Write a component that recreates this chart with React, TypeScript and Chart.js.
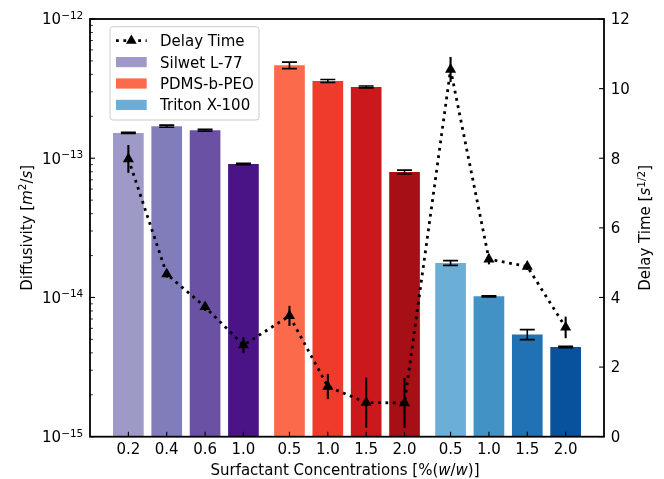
import React, { useEffect, useRef } from 'react';
import { Chart, registerables } from 'chart.js';

Chart.register(...registerables);

// ---------- data ----------
const categories = ['0.2', '0.4', '0.6', '1.0', '0.5', '1.0', '1.5', '2.0', '0.5', '1.0', '1.5', '2.0'];
const xPositions = [0, 1, 2, 3, 4.2, 5.2, 6.2, 7.2, 8.4, 9.4, 10.4, 11.4];
const diffusivity = [1.52e-13, 1.7e-13, 1.59e-13, 9.1e-14, 4.65e-13, 3.59e-13, 3.25e-13, 7.96e-14, 1.77e-14, 1.02e-14, 5.43e-15, 4.41e-15];
const diffusivityErr = [1.5e-15, 3e-15, 2.5e-15, 1e-15, 2.5e-14, 9e-15, 5e-15, 2.6e-15, 7e-16, 1e-16, 4.5e-16, 5e-17];
const delayTime = [7.98, 4.67, 3.73, 2.63, 3.47, 1.44, 0.98, 0.97, 10.55, 5.1, 4.89, 3.14];
const delayErr = [0.4, 0.1, 0.12, 0.23, 0.29, 0.36, 0.72, 0.72, 0.36, 0.15, 0.1, 0.31];
const barColors = [
  '#9e9ac8', '#807dba', '#6a51a3', '#4a1486',
  '#fb6a4a', '#ef3b2c', '#cb181d', '#a50f15',
  '#6baed6', '#4292c6', '#2171b5', '#08519c',
];
const legendLabels = ['Silwet L-77', 'PDMS-b-PEO', 'Triton X-100'];
const legendColors = ['#9e9ac8', '#fb6a4a', '#6baed6'];
const lineLabel = 'Delay Time';
const logMajorExponents = [-15, -14, -13, -12];
const rightTicks = [0, 2, 4, 6, 8, 10, 12];

// ---------- text helpers ----------
const FAMILY = "'DejaVu Sans'";
const FS = 15;
type Seg = { t: string; it?: boolean; sup?: boolean };

function segFont(s: Seg, size: number) {
  return `${s.it ? 'italic ' : ''}${s.sup ? size * 0.7 : size}px ${FAMILY}`;
}
function measureRich(ctx: CanvasRenderingContext2D, segs: Seg[], size: number) {
  let w = 0;
  for (const s of segs) {
    ctx.font = segFont(s, size);
    w += ctx.measureText(s.t).width;
  }
  return w;
}
function drawRich(ctx: CanvasRenderingContext2D, segs: Seg[], x: number, y: number, size: number, align: 'left' | 'center' | 'right') {
  const w = measureRich(ctx, segs, size);
  let cx = align === 'center' ? x - w / 2 : align === 'right' ? x - w : x;
  ctx.textAlign = 'left';
  ctx.textBaseline = 'alphabetic';
  for (const s of segs) {
    ctx.font = segFont(s, size);
    ctx.fillText(s.t, cx, s.sup ? y - size * 0.36 : y);
    cx += ctx.measureText(s.t).width;
  }
}

const decorPlugin = {
  id: 'decor',
  afterDatasetDraw(chart: any, args: any) {
    if (args.index !== 1) return;
    const ctx: CanvasRenderingContext2D = chart.ctx;
    const xs = chart.scales.x;
    const ys = chart.scales.y;
    const y2 = chart.scales.y2;
    ctx.save();
    ctx.strokeStyle = '#000';
    // bar error bars
    ctx.lineWidth = 1.6;
    diffusivity.forEach((v, i) => {
      const px = xs.getPixelForValue(xPositions[i]);
      const t = ys.getPixelForValue(v + diffusivityErr[i]);
      const b = ys.getPixelForValue(v - diffusivityErr[i]);
      ctx.beginPath();
      ctx.moveTo(px, t);
      ctx.lineTo(px, b);
      ctx.moveTo(px - 7.5, t);
      ctx.lineTo(px + 7.5, t);
      ctx.moveTo(px - 7.5, b);
      ctx.lineTo(px + 7.5, b);
      ctx.stroke();
    });
    // delay error bars
    ctx.lineWidth = 2.1;
    delayTime.forEach((v, i) => {
      const px = xs.getPixelForValue(xPositions[i]);
      ctx.beginPath();
      ctx.moveTo(px, y2.getPixelForValue(v + delayErr[i]));
      ctx.lineTo(px, y2.getPixelForValue(v - delayErr[i]));
      ctx.stroke();
    });
    ctx.restore();
  },
  afterDraw(chart: any) {
    const ctx: CanvasRenderingContext2D = chart.ctx;
    const { left, right, top, bottom } = chart.chartArea;
    const xs = chart.scales.x;
    const ys = chart.scales.y;
    const y2 = chart.scales.y2;
    const midY = (top + bottom) / 2;
    ctx.save();
    ctx.fillStyle = '#000';
    ctx.strokeStyle = '#000';

    // spines
    ctx.lineWidth = 1.8;
    ctx.strokeRect(left, top, right - left, bottom - top);

    // x ticks + labels
    ctx.lineWidth = 1.1;
    xs.ticks.forEach((tk: any, i: number) => {
      const px = xs.getPixelForValue(tk.value);
      ctx.beginPath();
      ctx.moveTo(px, bottom);
      ctx.lineTo(px, bottom - 4.9);
      ctx.stroke();
      drawRich(ctx, [{ t: categories[i] }], px, bottom + 16.8, FS, 'center');
    });

    // left log ticks
    for (let e = -15; e <= -12; e++) {
      const py = ys.getPixelForValue(Math.pow(10, e));
      ctx.lineWidth = 1.1;
      ctx.beginPath();
      ctx.moveTo(left, py);
      ctx.lineTo(left + 4.9, py);
      ctx.stroke();
      if (e < -12) {
        ctx.lineWidth = 0.85;
        for (let k = 2; k <= 9; k++) {
          const pm = ys.getPixelForValue(k * Math.pow(10, e));
          ctx.beginPath();
          ctx.moveTo(left, pm);
          ctx.lineTo(left + 2.8, pm);
          ctx.stroke();
        }
      }
    }
    logMajorExponents.forEach((e) => {
      const py = ys.getPixelForValue(Math.pow(10, e));
      drawRich(ctx, [{ t: '10' }, { t: '\u2212' + String(-e), sup: true }], left - 6.7, py + 5.4, FS, 'right');
    });

    // right ticks
    ctx.lineWidth = 1.1;
    rightTicks.forEach((v) => {
      const py = y2.getPixelForValue(v);
      ctx.beginPath();
      ctx.moveTo(right, py);
      ctx.lineTo(right - 4.9, py);
      ctx.stroke();
      drawRich(ctx, [{ t: String(v) }], right + 6.7, py + 5.4, FS, 'left');
    });

    // axis titles
    drawRich(
      ctx,
      [{ t: 'Surfactant Concentrations [%(' }, { t: 'w', it: true }, { t: '/' }, { t: 'w', it: true }, { t: ')]' }],
      345,
      475,
      FS,
      'center'
    );
    ctx.save();
    ctx.translate(31.7, midY);
    ctx.rotate(-Math.PI / 2);
    drawRich(ctx, [{ t: 'Diffusivity [' }, { t: 'm', it: true }, { t: '2', sup: true }, { t: '/' }, { t: 's', it: true }, { t: ']' }], 0, 0, FS, 'center');
    ctx.restore();
    ctx.save();
    ctx.translate(650, midY);
    ctx.rotate(-Math.PI / 2);
    drawRich(ctx, [{ t: 'Delay Time [' }, { t: 's', it: true }, { t: '1/2', sup: true }, { t: ']' }], 0, 0, FS, 'center');
    ctx.restore();

    // legend
    const lx = 110, ly = 26.7, lw = 149, lh = 93.3, r = 3;
    ctx.beginPath();
    ctx.moveTo(lx + r, ly);
    ctx.lineTo(lx + lw - r, ly);
    ctx.arcTo(lx + lw, ly, lx + lw, ly + r, r);
    ctx.lineTo(lx + lw, ly + lh - r);
    ctx.arcTo(lx + lw, ly + lh, lx + lw - r, ly + lh, r);
    ctx.lineTo(lx + r, ly + lh);
    ctx.arcTo(lx, ly + lh, lx, ly + lh - r, r);
    ctx.lineTo(lx, ly + r);
    ctx.arcTo(lx, ly, lx + r, ly, r);
    ctx.closePath();
    ctx.fillStyle = 'rgba(255,255,255,0.8)';
    ctx.fill();
    ctx.strokeStyle = '#cccccc';
    ctx.lineWidth = 1;
    ctx.stroke();

    const rows = [40.7, 62.1, 83.5, 104.9];
    const hx0 = 116, hx1 = 146.7;
    // line handle
    ctx.strokeStyle = '#000';
    ctx.lineWidth = 2.8;
    ctx.setLineDash([2.8, 4.6]);
    ctx.beginPath();
    ctx.moveTo(hx0, rows[0]);
    ctx.lineTo(hx1, rows[0]);
    ctx.stroke();
    ctx.setLineDash([]);
    const tr = 6.2;
    const tcx = (hx0 + hx1) / 2, tcy = rows[0];
    ctx.fillStyle = '#000';
    ctx.beginPath();
    for (let k = 0; k < 3; k++) {
      const a = (k * 2 * Math.PI) / 3;
      const px = tcx + Math.sin(a) * tr, py = tcy - Math.cos(a) * tr;
      if (k === 0) ctx.moveTo(px, py); else ctx.lineTo(px, py);
    }
    ctx.closePath();
    ctx.fill();
    drawRich(ctx, [{ t: lineLabel }], 160, rows[0] + 5.4, FS, 'left');
    legendLabels.forEach((lab, i) => {
      ctx.fillStyle = legendColors[i];
      ctx.fillRect(hx0, rows[i + 1] - 5.1, hx1 - hx0, 10.2);
      ctx.fillStyle = '#000';
      drawRich(ctx, [{ t: lab }], 160, rows[i + 1] + 5.4, FS, 'left');
    });

    ctx.restore();
  },
};

export default function App() {
  const ref = useRef<HTMLCanvasElement | null>(null);
  useEffect(() => {
    if (!ref.current) return;
    const chart = new Chart(ref.current, {
      data: {
        datasets: [
          {
            type: 'line',
            label: lineLabel,
            xAxisID: 'x',
            yAxisID: 'y2',
            data: delayTime.map((v, i) => ({ x: xPositions[i], y: v })),
            borderColor: '#000',
            borderWidth: 2.8,
            borderDash: [2.8, 4.6],
            borderCapStyle: 'butt',
            tension: 0,
            fill: false,
            pointStyle: 'triangle',
            pointRadius: 6.4,
            pointBackgroundColor: '#000',
            pointBorderColor: '#000',
            pointBorderWidth: 0,
            order: 0,
          } as any,
          {
            type: 'bar',
            label: 'Diffusivity',
            xAxisID: 'x',
            yAxisID: 'y',
            data: diffusivity.map((v, i) => ({ x: xPositions[i], y: v })),
            backgroundColor: barColors,
            borderWidth: 0,
            barPercentage: 0.8,
            categoryPercentage: 1,
            order: 1,
          } as any,
        ],
      },
      options: {
        animation: false,
        responsive: true,
        maintainAspectRatio: false,
        events: [],
        layout: { padding: { left: 90, right: 60, top: 19, bottom: 42.3 } },
        plugins: { legend: { display: false }, tooltip: { enabled: false } },
        scales: {
          x: {
            type: 'linear',
            display: false,
            offset: false,
            min: -1,
            max: 12.4,
            afterBuildTicks: (scale: any) => {
              scale.ticks = xPositions.map((v) => ({ value: v }));
            },
          },
          y: { type: 'logarithmic', display: false, min: 1e-15, max: 1e-12, position: 'left' },
          y2: { type: 'linear', display: false, min: 0, max: 12, position: 'right', ticks: { stepSize: 2 } },
        },
      } as any,
      plugins: [decorPlugin],
    });
    return () => chart.destroy();
  }, []);
  return (
    <div style={{ position: 'absolute', left: 0, top: 0, width: 664, height: 479, background: '#fff' }}>
      <canvas ref={ref} />
    </div>
  );
}
